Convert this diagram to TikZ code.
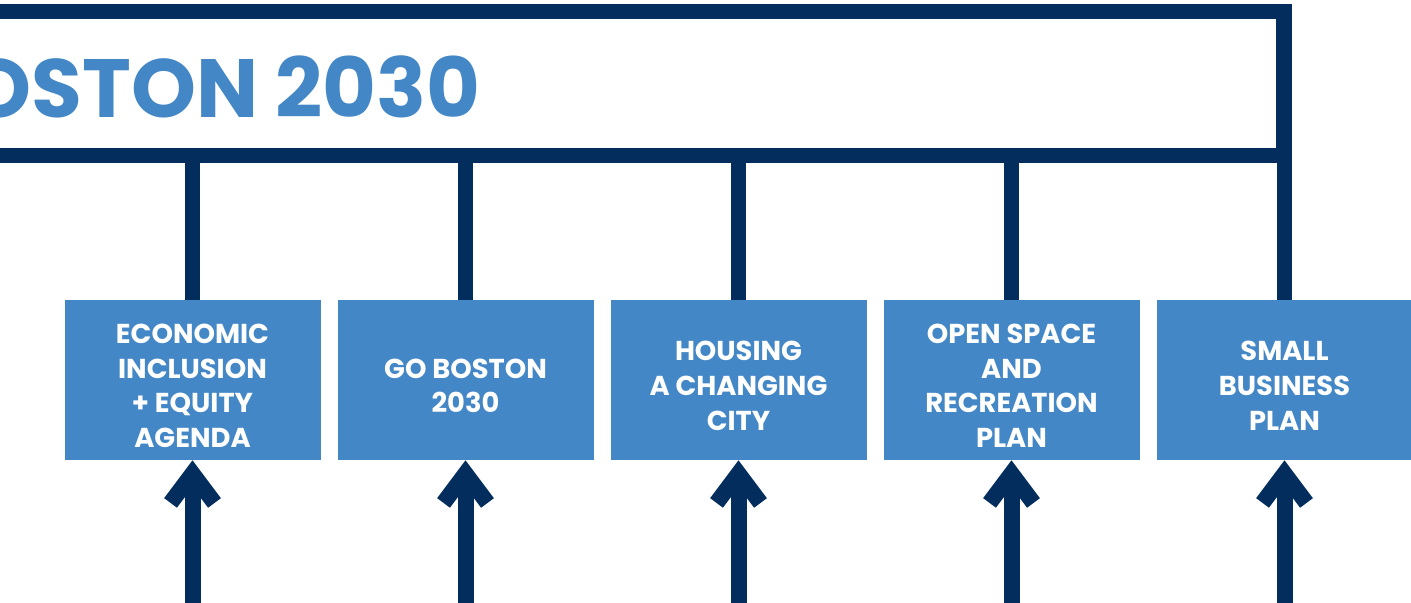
\documentclass[tikz,border=0pt]{standalone}
\usepackage{fontspec}
\setmainfont{Poppins}
\usetikzlibrary{arrows.meta}
\definecolor{navy}{RGB}{3,45,92}
\definecolor{planblue}{RGB}{67,135,198}
\newcommand{\planlines}[1]{\raisebox{-6.5pt}[\height][\depth]{\begin{tabular}{@{}c@{}}#1\end{tabular}}}

\begin{document}
\begin{tikzpicture}[x=0.75pt,y=0.75pt,yscale=-1,xscale=1,
  plan/.style={fill=planblue, text=white, font=\bfseries\fontsize{20.5}{26}\selectfont, minimum width=192pt, minimum height=120pt, inner sep=0pt},
  link/.style={draw=navy, line width=11.6pt},
  feed/.style={draw=navy, line width=12pt, -{Straight Barb[length=22pt,width=33pt,line join=miter,line cap=butt]}}]
\useasboundingbox (0,0) rectangle (1411,603);
\begin{scope}
\clip (0,0) rectangle (1411,603);
% banner
\node [draw=navy, line width=11.6pt, minimum width=978pt, minimum height=108pt, inner sep=0pt] (banner) at (632,83.5) {};
\node [anchor=base east, text=planblue, font=\bfseries\fontsize{62}{62}\selectfont, inner sep=0pt] (title) at (481,117) {BOSTON 2030};
% plans
\node [plan] (econ) at (192.5,380) {\planlines{ECONOMIC\\INCLUSION\\+ EQUITY\\AGENDA}};
\node [plan] (goboston) at (465.5,380) {\planlines{GO BOSTON\\2030}};
\node [plan] (housing) at (738.5,380) {\planlines{HOUSING\\A CHANGING\\CITY}};
\node [plan] (openspace) at (1011.5,380) {\planlines{OPEN SPACE\\AND\\RECREATION\\PLAN}};
\node [plan] (smallbiz) at (1284.5,380) {\planlines{SMALL\\BUSINESS\\PLAN}};
% links up to banner
\draw [link] (econ.north) -- (econ.north |- banner.south);
\draw [link] (goboston.north) -- (goboston.north |- banner.south);
\draw [link] (housing.north) -- (housing.north |- banner.south);
\draw [link] (openspace.north) -- (openspace.north |- banner.south);
\draw [link] (smallbiz.north) -- (smallbiz.north |- banner.south);
% arrows from below
\coordinate (econ-in) at (192.5,603);
\coordinate (goboston-in) at (465.5,603);
\coordinate (housing-in) at (738.5,603);
\coordinate (openspace-in) at (1011.5,603);
\coordinate (smallbiz-in) at (1284.5,603);
\draw [feed] (econ-in) -- (econ.south);
\draw [feed] (goboston-in) -- (goboston.south);
\draw [feed] (housing-in) -- (housing.south);
\draw [feed] (openspace-in) -- (openspace.south);
\draw [feed] (smallbiz-in) -- (smallbiz.south);
\end{scope}
\end{tikzpicture}
\end{document}
